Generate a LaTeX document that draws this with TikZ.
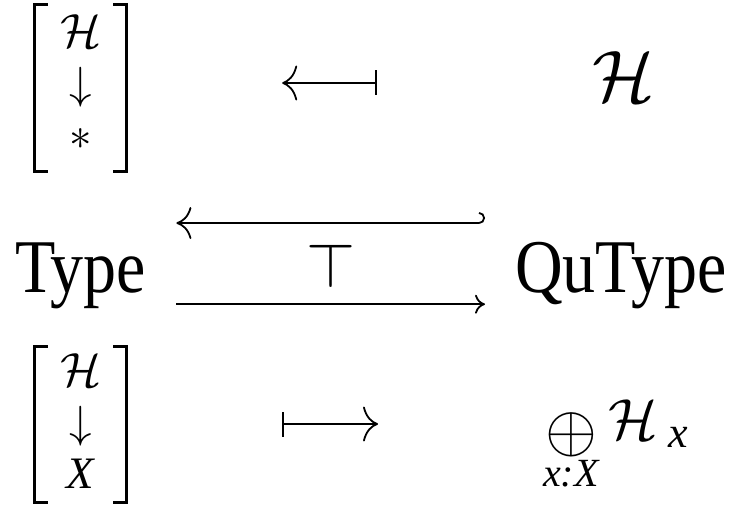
\RequirePackage{fix-cm}
\documentclass[tikz,border=0pt]{standalone}
\usepackage{amsmath}
\usepackage{fontspec}
\setmainfont{Liberation Serif}
\usepackage{graphicx}
\usetikzlibrary{arrows.meta,calc}

\tikzset{
  bigtxt/.style={inner sep=0pt,yscale=1.15,font=\fontsize{66}{70}\selectfont},
  colnode/.style={inner sep=0pt,align=center,minimum width=92pt,font=\fontsize{45}{51}\selectfont},
  brk/.style={line width=3pt},
  arr/.style={line width=1.8pt},
}

\begin{document}
\begin{tikzpicture}[x=1pt,y=-1pt]
  \useasboundingbox (0,0) rectangle (743,513);
  \node[colnode,minimum height=166pt] (col1) at (80.5,88) {{\fontsize{48}{51}\selectfont$\mathcal{H}$}\\$\downarrow$\\$\ast$\rule[-12pt]{0pt}{12pt}};
  \node[colnode,minimum height=156pt] (col2) at (80.5,424.5) {{\fontsize{48}{51}\selectfont$\mathcal{H}$}\\$\downarrow$\\\textit{X}\rule[-6pt]{0pt}{6pt}};
  \foreach \m in {col1,col2} {
    \draw[brk] ([xshift=13.5pt]\m.north west) -| (\m.south west) -- ++(13.5,0);
    \draw[brk] ([xshift=-13.5pt]\m.north east) -| (\m.south east) -- ++(-13.5,0);
  }
  \node[inner sep=0pt,anchor=base,font=\fontsize{73}{73}\selectfont] (hsp) at (624,102) {$\mathcal{H}$};
  \node[bigtxt,anchor=base west] (type) at (15,292) {Type};
  \node[bigtxt,anchor=base west] (qutype) at (515,292) {QuType};
  \node[inner sep=0pt,anchor=base,font=\fontsize{63}{63}\selectfont] (adj) at (331,287) {$\top$};
  \node[inner sep=0pt,anchor=base west,font=\fontsize{58}{58}\selectfont] (sum) at (543,439)
    {$\mathop{\raisebox{-12pt}{\scalebox{1.15}{$\oplus$}}}\limits_{\text{\fontsize{40}{40}\selectfont\itshape x:X}}\mathcal{H}_{\kern11pt\text{\fontsize{44}{44}\selectfont\itshape x}}$};
  \draw[arr,{To[length=15pt,width=35pt]}-{Bar[width=25pt]},shorten <=155.5pt,shorten >=216pt]
    ($(col1.east)+(0,-5)$) -- ($(col1.east-|hsp.west)+(0,-5)$);
  \draw[arr,{Hooks[left,length=6pt,width=22pt]}-{To[length=15pt,width=32pt]},shorten <=30pt,shorten >=30pt]
    ($(qutype.west|-adj.north)+(0,-20)$) -- ($(type.east|-adj.north)+(0,-20)$);
  \draw[arr,-{To[length=10pt,width=19pt]},shorten <=30pt,shorten >=30pt]
    ($(type.east|-adj.south)+(0,17)$) -- ($(qutype.west|-adj.south)+(0,17)$);
  \draw[arr,{Bar[width=25pt]}-{To[length=15pt,width=35pt]},shorten <=155.5pt,shorten >=165pt]
    ($(col2.east)+(0,-0.5)$) -- ($(col2.east-|sum.west)+(0,-0.5)$);
\end{tikzpicture}
\end{document}
